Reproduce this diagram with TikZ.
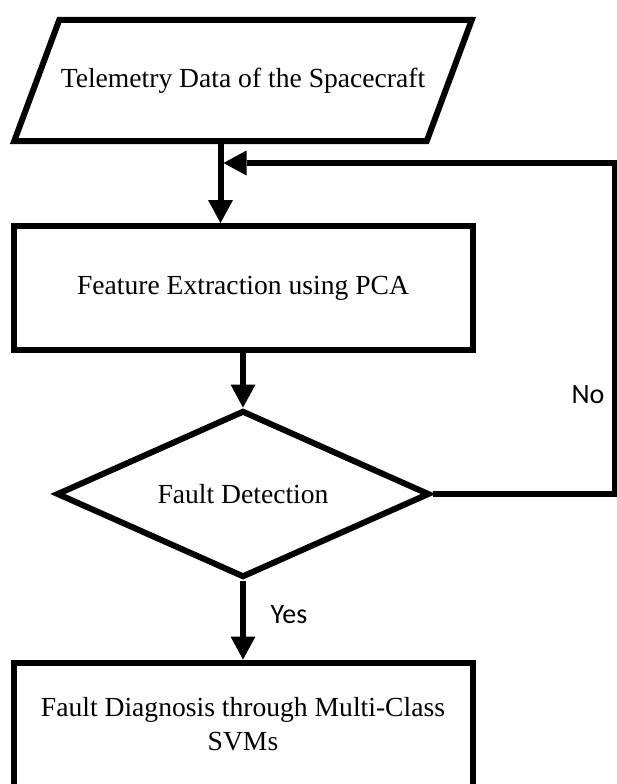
\documentclass[tikz,border=0pt]{standalone}
\usepackage{fontspec}
\setmainfont{Liberation Serif}
\newfontfamily\lblfont{Carlito}
\usetikzlibrary{shapes.geometric,arrows.meta}
\begin{document}
\begin{tikzpicture}[x=1pt,y=-1pt,
  every node/.style={inner sep=0pt},
  boxline/.style={draw=black, line width=6pt},
  flowtext/.style={align=center, font=\fontsize{27.6}{34}\selectfont},
  iobox/.style={flowtext, rectangle, outer sep=0pt,
    minimum width=412.5pt, minimum height=121pt},
  procbox/.style={boxline, flowtext, rectangle, minimum width=459pt, minimum height=124pt},
  decbox/.style={boxline, flowtext, diamond, aspect=2.2, minimum width=373pt, minimum height=167pt},
  link/.style={line width=6pt,
    -{Triangle[length=23pt,width=25pt,line width=0pt]}},
  lbl/.style={font=\lblfont\fontsize{28}{32}\selectfont}]
\useasboundingbox (0,0) rectangle (616,784);

% input block: parallelogram leaning right by 45pt
\node[iobox] (data) at (243,80.5) {Telemetry Data of the Spacecraft};
\draw[boxline] ([xshift=22.5pt]data.north west) -- ([xshift=22.5pt]data.north east)
  -- ([xshift=-22.5pt]data.south east) -- ([xshift=-22.5pt]data.south west) -- cycle;
\coordinate (data-out) at ([xshift=-22.5pt,yshift=-3pt]data.south);

% remaining blocks
\node[procbox] (feat) at (243,288)   {Feature Extraction using PCA};
\node[decbox]  (dec)  at (243,494)   {Fault Detection};
\node[procbox] (diag) at (243,724.5) {Fault Diagnosis through Multi-Class\\SVMs};

% branch labels
\node[lbl] (yes) at (289,615) {Yes};
\node[lbl] (no)  at (588,395) {No};

% connectors
\coordinate (turn) at (615,163);
\draw[link] (data-out) -- (data-out |- feat.north);
\draw[link] (feat.south) -- (dec.north);
\draw[link] (dec.south) -- (diag.north);
\draw[link] (dec.east) -| (turn) -- ([xshift=3pt]turn -| data-out);
\end{tikzpicture}
\end{document}
